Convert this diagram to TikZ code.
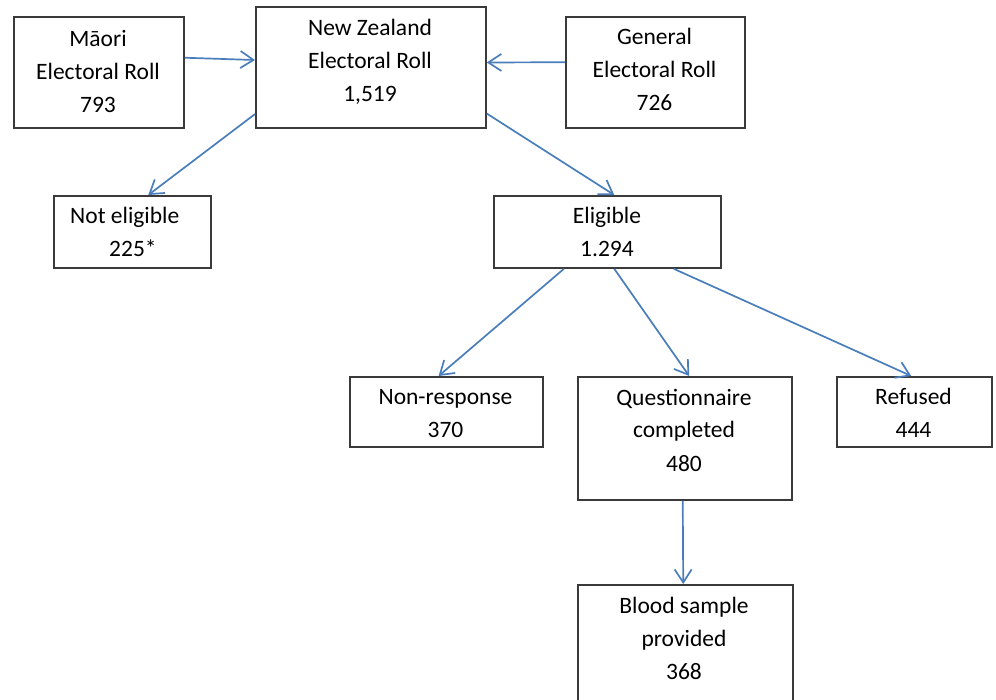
\documentclass[tikz,border=0pt]{standalone}
\usepackage{fontspec}
\setmainfont{Carlito}
\usetikzlibrary{arrows.meta,calc}
\definecolor{arrowblue}{HTML}{4A7EBB}
\definecolor{boxgray}{HTML}{3A3A3A}
\tikzset{
  box/.style={draw=boxgray, line width=1.8pt, rectangle, anchor=north west, inner sep=0pt},
  txt/.style={align=center, inner sep=0pt, font=\fontsize{23.5}{33}\selectfont, text=black},
  conn/.style={draw=arrowblue, line width=1.7pt, -{Straight Barb[length=13pt,width=17pt,line width=1.7pt]}}
}
\begin{document}
\begin{tikzpicture}[x=1pt,y=-1pt]
\useasboundingbox (0,0) rectangle (996,700);
\clip (0,0) rectangle (996,700);
% boxes
\node[box, minimum width=170pt, minimum height=111pt] (maori) at (13,16) {};
\node[box, minimum width=230pt, minimum height=121pt] (nz) at (255,6) {};
\node[box, minimum width=179pt, minimum height=111pt] (general) at (565,16) {};
\node[box, minimum width=157pt, minimum height=72pt] (notel) at (53,195) {};
\node[box, minimum width=227pt, minimum height=72pt] (elig) at (493,195) {};
\node[box, minimum width=193pt, minimum height=70pt] (nonresp) at (349,376) {};
\node[box, minimum width=214pt, minimum height=123pt] (quest) at (577,376) {};
\node[box, minimum width=155pt, minimum height=70pt] (refused) at (836,376) {};
\node[box, minimum width=215pt, minimum height=140pt] (blood) at (577,584) {};
% texts (anchor=base is the baseline of the last line)
\node[txt, anchor=base] (maoriT) at (98,113) {Māori\\Electoral Roll\\793};
\node[txt, anchor=base] (nzT) at (370,102) {New Zealand\\Electoral Roll\\1,519};
\node[txt, anchor=base] (generalT) at (654.5,111) {General\\Electoral Roll\\726};
\node[txt, align=left, anchor=base west] (notelT) at (70,257) {Not eligible\\\hspace*{39pt}225*};
\node[txt, anchor=base] (eligT) at (607,257) {Eligible\\1.294};
\node[txt, anchor=base] (nonrespT) at (445.5,438) {Non-response\\370};
\node[txt, anchor=base] (questT) at (684,471) {Questionnaire\\completed\\480};
\node[txt, anchor=base] (refusedT) at (913.5,438) {Refused\\444};
\node[txt, anchor=base] (bloodT) at (684,679) {Blood sample\\provided\\368};
% connectors
\draw[conn] ($(maori.north east)!0.37!(maori.south east)$) -- ($(nz.north west)!0.44!(nz.south west)$);
\draw[conn] ($(general.north west)!0.41!(general.south west)$) -- ($(nz.north east)!0.46!(nz.south east)$);
\draw[conn] ($(nz.north west)!0.88!(nz.south west)$) -- ($(notel.north west)!0.6!(notel.north east)$);
\draw[conn] ($(nz.north east)!0.876!(nz.south east)$) -- ($(elig.north west)!0.53!(elig.north east)$);
\draw[conn] ($(elig.south west)!0.31!(elig.south east)$) -- ($(nonresp.north west)!0.46!(nonresp.north east)$);
\draw[conn] ($(elig.south west)!0.53!(elig.south east)$) -- ($(quest.north west)!0.52!(quest.north east)$);
\draw[conn] ($(elig.south west)!0.79!(elig.south east)$) -- ($(refused.north west)!0.48!(refused.north east)$);
\draw[conn] ($(quest.south west)!0.49!(quest.south east)$) -- ($(blood.north west)!0.49!(blood.north east)$);
\end{tikzpicture}
\end{document}
